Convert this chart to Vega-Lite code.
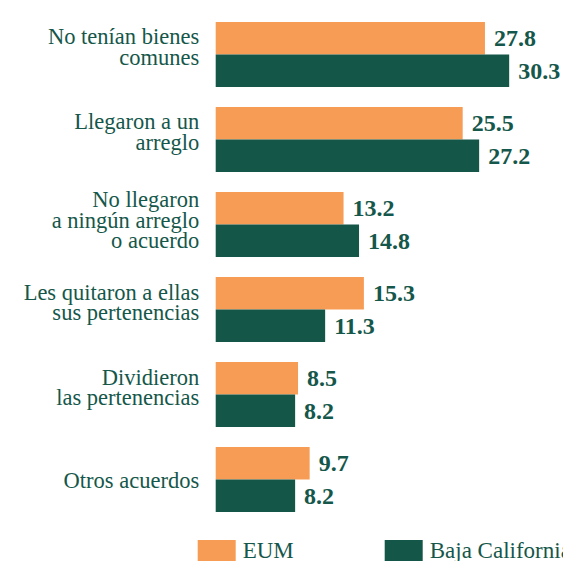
{
  "$schema": "https://vega.github.io/schema/vega-lite/v6.json",
  "autosize": {"type": "none"},
  "padding": {"left": 215.7, "top": 12, "right": 8.3, "bottom": 39},
  "width": 339,
  "height": 510,
  "background": "white",
  "config": {
    "view": {"stroke": null},
    "font": "Liberation Serif"
  },
  "data": {
    "values": [
      {"categoria": "No tenían bienes\ncomunes", "serie": "EUM", "valor": 27.8},
      {"categoria": "No tenían bienes\ncomunes", "serie": "Baja California", "valor": 30.3},
      {"categoria": "Llegaron a un\narreglo", "serie": "EUM", "valor": 25.5},
      {"categoria": "Llegaron a un\narreglo", "serie": "Baja California", "valor": 27.2},
      {"categoria": "No llegaron\na ningún arreglo\no acuerdo", "serie": "EUM", "valor": 13.2},
      {"categoria": "No llegaron\na ningún arreglo\no acuerdo", "serie": "Baja California", "valor": 14.8},
      {"categoria": "Les quitaron a ellas\nsus pertenencias", "serie": "EUM", "valor": 15.3},
      {"categoria": "Les quitaron a ellas\nsus pertenencias", "serie": "Baja California", "valor": 11.3},
      {"categoria": "Dividieron\nlas pertenencias", "serie": "EUM", "valor": 8.5},
      {"categoria": "Dividieron\nlas pertenencias", "serie": "Baja California", "valor": 8.2},
      {"categoria": "Otros acuerdos", "serie": "EUM", "valor": 9.7},
      {"categoria": "Otros acuerdos", "serie": "Baja California", "valor": 8.2}
    ]
  },
  "encoding": {
    "y": {
      "field": "categoria",
      "type": "nominal",
      "sort": null,
      "scale": {"paddingInner": 0.2353, "paddingOuter": 0.1176},
      "axis": {
        "title": null,
        "domain": false,
        "ticks": false,
        "grid": false,
        "labelPadding": 17,
        "labelFont": "Liberation Serif",
        "labelFontSize": 22.5,
        "labelColor": "#15574a",
        "labelLineHeight": 20.5,
        "labelLimit": 0,
        "labelOffset": {
          "condition": [
            {"test": "length(split(datum.value, '\\n')) == 3", "value": -24},
            {"test": "length(split(datum.value, '\\n')) == 2", "value": -17}
          ],
          "value": 1
        },
        "labelExpr": "split(datum.label, '\\n')"
      }
    },
    "yOffset": {
      "field": "serie",
      "type": "nominal",
      "sort": ["EUM", "Baja California"],
      "scale": {"paddingInner": 0, "paddingOuter": 0}
    },
    "x": {
      "field": "valor",
      "type": "quantitative",
      "scale": {"domain": [0, 35], "nice": false, "zero": true},
      "axis": null
    }
  },
  "layer": [
    {
      "mark": {"type": "bar"},
      "encoding": {
        "color": {
          "field": "serie",
          "type": "nominal",
          "scale": {"domain": ["EUM", "Baja California"], "range": ["#f79c55", "#145647"]},
          "legend": {
            "title": null,
            "orient": "none",
            "direction": "horizontal",
            "legendX": -18,
            "legendY": 520,
            "padding": 0,
            "symbolType": "M-1,-0.58H1V0.58H-1Z",
            "symbolSize": 1444,
            "symbolStrokeWidth": 0,
            "labelFont": "Liberation Serif",
            "labelFontSize": 23,
            "labelColor": "#15574a",
            "labelOffset": 7,
            "labelLimit": 0,
            "columnPadding": 90
          }
        }
      }
    },
    {
      "mark": {
        "type": "text",
        "align": "left",
        "baseline": "middle",
        "dx": 9,
        "dy": 1,
        "font": "Liberation Serif",
        "fontSize": 24,
        "fontWeight": "bold",
        "color": "#15574a"
      },
      "encoding": {
        "text": {"field": "valor", "type": "quantitative", "format": ".1f"}
      }
    }
  ]
}
